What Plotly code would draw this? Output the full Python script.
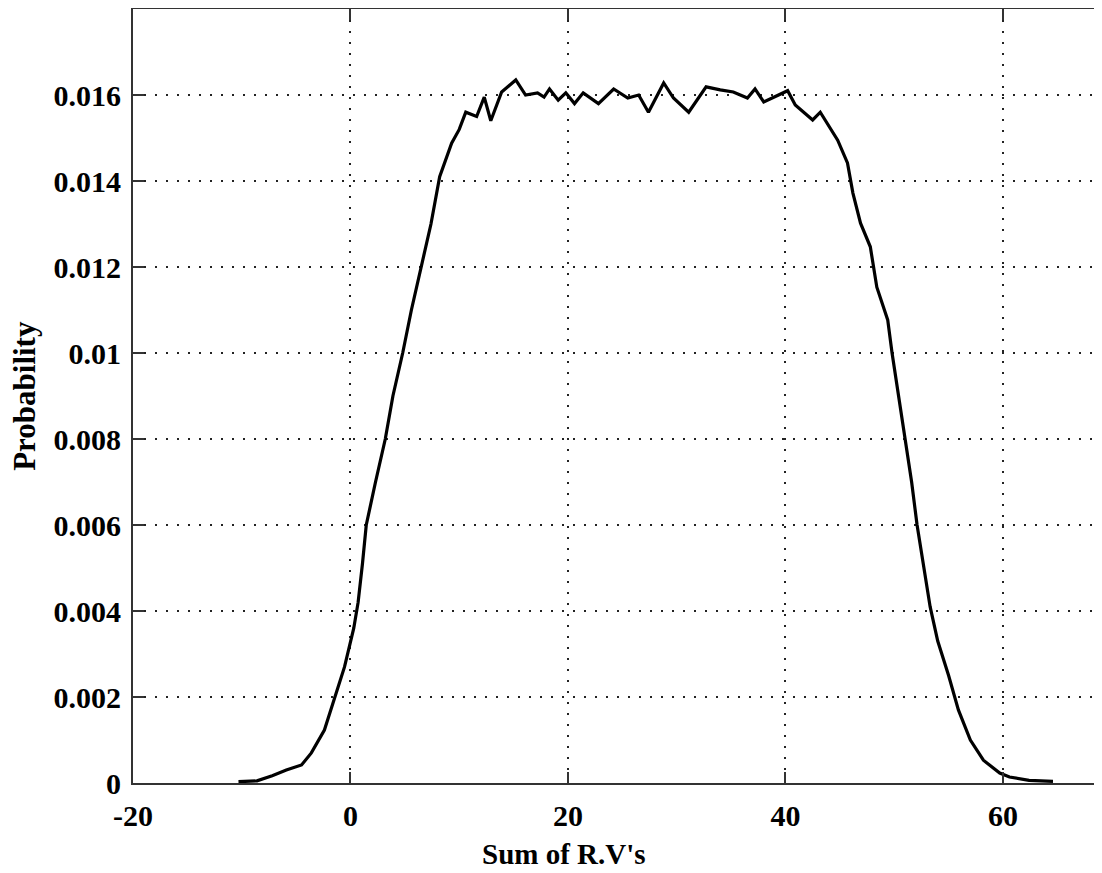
import plotly.graph_objects as go

# Data (sum of random variables vs probability)
x_vals = [-10.3, -8.6, -7.2, -5.9, -4.5, -3.6, -2.4, -1.5, -0.55, 0.3, 0.7, 1.1, 1.45, 2.3, 3.2, 3.9,
          4.8, 5.6, 6.5, 7.4, 8.2, 9.3, 10.0, 10.6, 11.6, 12.3, 12.9, 13.9, 15.2, 16.1, 17.2,
          17.8, 18.3, 19.1, 19.8, 20.6, 21.4, 22.8, 24.2, 25.5, 26.5, 27.4, 28.8, 29.7, 31.1,
          32.7, 34.0, 35.2, 36.5, 37.2, 38.0, 39.8, 40.2, 40.9, 42.5, 43.2, 44.8, 45.7, 46.2,
          46.9, 47.8, 48.4, 49.4, 49.8, 50.4, 51.0, 51.6, 52.1, 52.7, 53.3, 54.0, 55.0, 55.9,
          57.0, 58.2, 59.7, 60.6, 62.4, 64.6]
y_vals = [0.00003, 0.00005, 0.00017, 0.0003, 0.00042, 0.0007, 0.00123, 0.00193, 0.0027, 0.0036,
          0.0042, 0.0051, 0.006, 0.007, 0.008, 0.009, 0.010, 0.011, 0.012, 0.013, 0.0141, 0.01488,
          0.0152, 0.0156, 0.0155, 0.01595, 0.0154, 0.01607, 0.01635, 0.0160, 0.01605, 0.01595,
          0.01614, 0.01588, 0.01605, 0.0158, 0.01605, 0.0158, 0.01614, 0.01593, 0.0160, 0.0156,
          0.01628, 0.01593, 0.0156, 0.01619, 0.01612, 0.01607, 0.01593, 0.01614, 0.01584,
          0.01605, 0.0161, 0.01577, 0.01542, 0.0156, 0.01495, 0.01442, 0.01372, 0.01302,
          0.01247, 0.01153, 0.01077, 0.0100, 0.0090, 0.0080, 0.0070, 0.0060, 0.0050, 0.0041,
          0.0033, 0.0025, 0.0017, 0.0010, 0.00053, 0.00023, 0.00014, 0.00006, 0.00004]

x_ticks = [-20, 0, 20, 40, 60]
x_ticktext = ["-20", "0", "20", "40", "60"]
y_ticks = [0, 0.002, 0.004, 0.006, 0.008, 0.010, 0.012, 0.014, 0.016]
y_ticktext = ["0", "0.002", "0.004", "0.006", "0.008", "0.01", "0.012", "0.014", "0.016"]

FONT = "Liberation Serif"
tickfont = dict(family=FONT, size=30, color="black", weight="bold")

fig = go.Figure()
fig.add_trace(go.Scatter(x=x_vals, y=y_vals, mode="lines",
                         line=dict(color="black", width=3.2), showlegend=False))

fig.update_layout(
    width=1086, height=857,
    margin=dict(l=125, r=0, t=1, b=82),
    paper_bgcolor="white", plot_bgcolor="white",
    xaxis=dict(range=[-20, 68.37], tickvals=x_ticks, ticktext=x_ticktext,
               showline=True, linecolor="#333", linewidth=2, mirror="ticks",
               ticks="inside", ticklen=11, tickwidth=2, tickcolor="#333",
               showgrid=True, gridcolor="#222", gridwidth=1.5, griddash="2px,9px",
               zeroline=False, tickfont=tickfont, ticklabelstandoff=5),
    yaxis=dict(range=[0, 0.018], tickvals=y_ticks, ticktext=y_ticktext,
               showline=True, linecolor="#333", linewidth=2, mirror=False,
               ticks="inside", ticklen=11, tickwidth=2, tickcolor="#333",
               showgrid=True, gridcolor="#222", gridwidth=1.5, griddash="2px,9px",
               zeroline=False, tickfont=tickfont, ticklabelstandoff=4),
    annotations=[
        dict(text="Sum of R.V's", xref="paper", yref="paper", x=0.448, y=-0.0917,
             xanchor="center", yanchor="middle", showarrow=False,
             font=dict(family=FONT, size=29, color="black", weight="bold")),
        dict(text="Probability", xref="paper", yref="paper", x=-0.1136, y=0.5,
             xanchor="center", yanchor="middle", textangle=-90, showarrow=False,
             font=dict(family=FONT, size=31, color="black", weight="bold")),
    ],
)

fig.write_html("out.html")
